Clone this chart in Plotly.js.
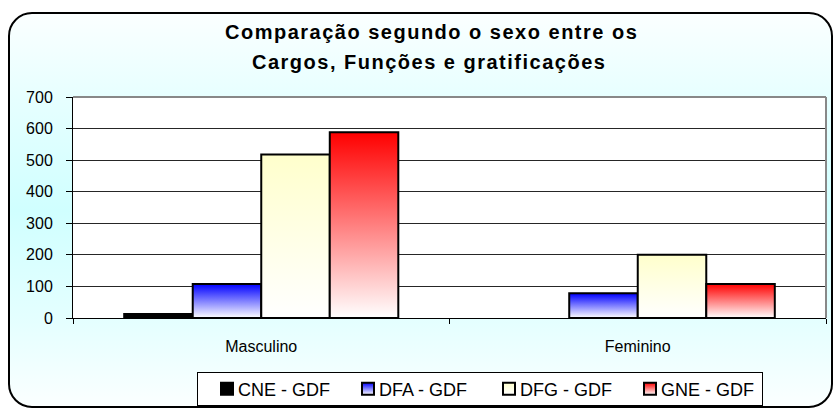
<!DOCTYPE html>
<html>
<head>
<meta charset="utf-8">
<script src="https://cdn.plot.ly/plotly-3.0.1.min.js"></script>
<style>
html,body{margin:0;padding:0;background:#fff;width:834px;height:409px;overflow:hidden;}
#frame{position:absolute;left:8px;top:12px;width:825px;height:396px;box-sizing:border-box;border:2px solid #000;border-radius:24px;
  background:linear-gradient(to bottom,#fbffff 0%,#e6ffff 22%,#d0ffff 50%,#e4ffff 78%,#fbffff 100%);}
#chart{position:absolute;left:0;top:0;width:834px;height:409px;}
.annotation-text{letter-spacing:1.5px;}
.legend .legendpoints{transform:translateX(9px);}
</style>
</head>
<body>
<div id="frame"></div>
<div id="chart"></div>
<script>
// ---- data ----
const categories = ['Masculino', 'Feminino'];
const seriesNames = ['CNE - GDF', 'DFA - GDF', 'DFG - GDF', 'GNE - GDF'];
const cneValues = [13, 0];
const dfaValues = [108, 78];
const dfgValues = [518, 200];
const gneValues = [588, 108];
const yTickValues = [0, 100, 200, 300, 400, 500, 600, 700];
const titleLines = ['Comparação segundo o sexo entre os', 'Cargos, Funções e gratificações'];

// ---- styles ----
const seriesValues = [cneValues, dfaValues, dfgValues, gneValues];
const baseColors = ['#000000', '#0000ff', '#ffffcc', '#ff0000'];
const gradientStops = [
  null,
  [['0%', '#0000ff'], ['100%', '#ffffff']],
  [['0%', '#ffffcc'], ['100%', '#ffffff']],
  [['0%', '#ff0000'], ['100%', '#ffffff']]
];
const FONT = 'Liberation Sans, Arial, Helvetica, sans-serif';

const L = 73, R = 8, T = 97, B = 91, W = 834, H = 409;
const pw = W - L - R, ph = H - T - B;
const px2x = x => (x - L) / pw;
const px2y = y => (H - B - y) / ph;

const traces = seriesNames.map((name, i) => ({
  type: 'bar',
  name: name,
  x: categories,
  y: seriesValues[i],
  marker: { color: baseColors[i], line: { color: '#000000', width: seriesValues[i].map(v => (v > 0 ? 2 : 0)) } },
  hoverinfo: 'none'
}));

const LEG_SHRINK = 5;

const layout = {
  width: W, height: H,
  margin: { l: L, r: R, t: T, b: B, pad: 0, autoexpand: false },
  paper_bgcolor: 'rgba(0,0,0,0)',
  plot_bgcolor: '#ffffff',
  font: { family: FONT, size: 16, color: '#000' },
  barmode: 'group', bargap: 0.272, bargroupgap: 0,
  showlegend: true,
  xaxis: {
    type: 'category', tickson: 'boundaries', ticks: 'outside', ticklen: 5, tickcolor: '#000', tickwidth: 1,
    showline: true, linecolor: '#000', linewidth: 1, showgrid: false, zeroline: false, automargin: false,
    tickfont: { family: FONT, size: 16, color: '#000' }, ticklabelstandoff: 14, fixedrange: true
  },
  yaxis: {
    range: [0, 700], tickmode: 'array', tickvals: yTickValues, ticktext: yTickValues.map(String),
    ticks: 'outside', ticklen: 6, tickcolor: '#000', tickwidth: 1,
    showline: true, linecolor: '#000', linewidth: 1, automargin: false,
    showgrid: true, gridcolor: '#262626', gridwidth: 1, zeroline: false,
    tickfont: { family: FONT, size: 16, color: '#000' }, ticklabelstandoff: 10, fixedrange: true
  },
  legend: {
    orientation: 'h', xref: 'container', yref: 'container',
    x: 197 / W, xanchor: 'left', y: (H - (372 - LEG_SHRINK / 2)) / H, yanchor: 'top',
    bgcolor: '#ffffff', bordercolor: '#000000', borderwidth: 1,
    font: { family: FONT, size: 18, color: '#000' },
    entrywidth: 96, entrywidthmode: 'pixels', traceorder: 'normal'
  },
  shapes: [
    { type: 'line', xref: 'paper', yref: 'paper', x0: 0, x1: 1, y0: 1, y1: 1, line: { color: '#888888', width: 2 } },
    { type: 'line', xref: 'paper', yref: 'paper', x0: 1, x1: 1, y0: 0, y1: 1, line: { color: '#888888', width: 2 } }
  ],
  annotations: [
    { text: titleLines[0], xref: 'paper', yref: 'paper', x: px2x(431), y: px2y(32.5), xanchor: 'center', yanchor: 'middle',
      showarrow: false, font: { family: FONT, size: 20, weight: 'bold', color: '#000' } },
    { text: titleLines[1], xref: 'paper', yref: 'paper', x: px2x(429), y: px2y(62), xanchor: 'center', yanchor: 'middle',
      showarrow: false, font: { family: FONT, size: 20, weight: 'bold', color: '#000' } }
  ]
};

Plotly.newPlot('chart', traces, layout, { staticPlot: true, displayModeBar: false }).then(gd => {
  const NS = 'http://www.w3.org/2000/svg';
  const svg = gd.querySelector('svg.main-svg');
  let defs = svg.querySelector('defs');
  if (!defs) { defs = document.createElementNS(NS, 'defs'); svg.insertBefore(defs, svg.firstChild); }
  gradientStops.forEach((stops, i) => {
    if (!stops) return;
    const lg = document.createElementNS(NS, 'linearGradient');
    lg.setAttribute('id', 'barGrad' + i);
    lg.setAttribute('x1', '0'); lg.setAttribute('y1', '0');
    lg.setAttribute('x2', '0'); lg.setAttribute('y2', '1');
    stops.forEach(s => {
      const st = document.createElementNS(NS, 'stop');
      st.setAttribute('offset', s[0]);
      st.setAttribute('stop-color', s[1]);
      lg.appendChild(st);
    });
    defs.appendChild(lg);
  });
  gd.querySelectorAll('.barlayer .trace').forEach((t, i) => {
    if (!gradientStops[i]) return;
    t.querySelectorAll('path').forEach(p => p.style.setProperty('fill', 'url(#barGrad' + i + ')'));
  });
  gd.querySelectorAll('.legend .traces').forEach((t, i) => {
    if (!gradientStops[i]) return;
    t.querySelectorAll('.legendpoints path').forEach(p => p.style.setProperty('fill', 'url(#barGrad' + i + ')'));
  });
  // tighten the legend box vertically (Excel-style compact legend)
  const bg = gd.querySelector('.legend rect.bg');
  if (bg) {
    const h0 = parseFloat(bg.getAttribute('height'));
    const y0 = parseFloat(bg.getAttribute('y') || '0');
    bg.setAttribute('height', h0 - LEG_SHRINK);
    bg.setAttribute('y', y0 + LEG_SHRINK / 2);
  }
});
</script>
</body>
</html>
